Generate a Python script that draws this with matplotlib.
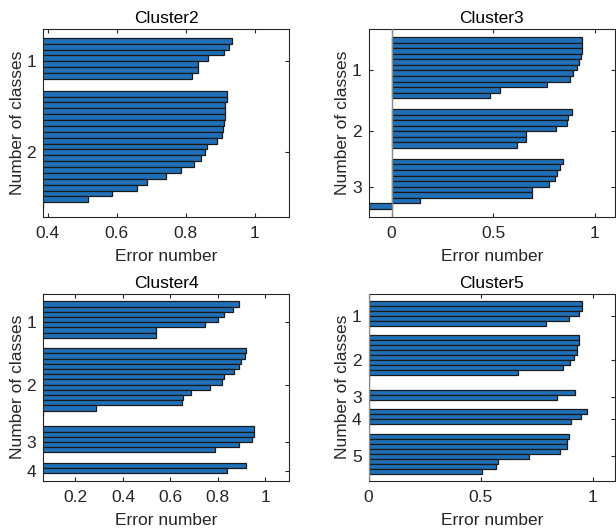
import numpy as np
import matplotlib
matplotlib.use("Agg")
import matplotlib.pyplot as plt

plt.rcParams['font.family'] = ['Liberation Sans', 'DejaVu Sans']

titles = ["Cluster2", "Cluster3", "Cluster4", "Cluster5"]

# silhouette values per class (sorted descending within each class)
c2_groups = [
    [0.936, 0.927, 0.910, 0.864, 0.836, 0.836, 0.818],
    [0.920, 0.920, 0.915, 0.915, 0.913, 0.910, 0.909, 0.905, 0.891, 0.861,
     0.856, 0.844, 0.823, 0.787, 0.743, 0.689, 0.659, 0.585, 0.518, 0.386],
]
c3_groups = [
    [0.939, 0.938, 0.938, 0.933, 0.924, 0.914, 0.891, 0.876, 0.767, 0.532, 0.485],
    [0.889, 0.870, 0.865, 0.808, 0.660, 0.660, 0.616],
    [0.846, 0.831, 0.816, 0.806, 0.777, 0.689, 0.689, 0.142, -0.114],
]
c4_groups = [
    [0.891, 0.866, 0.826, 0.802, 0.748, 0.540, 0.540],
    [0.920, 0.916, 0.899, 0.888, 0.870, 0.828, 0.818, 0.767, 0.685, 0.655,
     0.647, 0.286, 0.063],
    [0.952, 0.952, 0.945, 0.889, 0.788],
    [0.917, 0.837],
]
c5_groups = [
    [0.953, 0.953, 0.939, 0.895, 0.793],
    [0.941, 0.939, 0.932, 0.930, 0.917, 0.901, 0.868, 0.669, 0.003],
    [0.921, 0.841],
    [0.975, 0.948, 0.905],
    [0.896, 0.887, 0.886, 0.854, 0.718, 0.576, 0.571, 0.507],
]
all_groups = [c2_groups, c3_groups, c4_groups, c5_groups]

xticks_list = [[0.4, 0.6, 0.8, 1.0], [0, 0.5, 1], [0.2, 0.4, 0.6, 0.8, 1.0], [0, 0.5, 1]]
xticklabels_list = [["0.4", "0.6", "0.8", "1"], ["0", "0.5", "1"],
                    ["0.2", "0.4", "0.6", "0.8", "1"], ["0", "0.5", "1"]]

W, H = 616, 529
fig = plt.figure(figsize=(W / 100, H / 100), dpi=100)

# axes boxes in pixels: left, right, top, bottom
boxes = [(43, 289, 29, 217), (368.5, 615, 29, 217),
         (43, 289, 293.5, 481), (368.5, 615, 293.5, 481)]

barc = '#1f70b8'
txtc = '#262626'
fs = 12.5

for groups, title, box, xt, xtl in zip(all_groups, titles, boxes, xticks_list, xticklabels_list):
    l, r, t, b = box
    ax = fig.add_axes([l / W, 1 - b / H, (r - l) / W, (b - t) / H])
    space = 2
    bars = [np.nan] * space
    ticks = []
    for g in groups:
        bars += list(g) + [np.nan] * space
        ticks.append(len(bars) - 0.5 * (len(g) + space))
    bars = np.array(bars)
    idx = np.arange(1, len(bars) + 1)
    ok = ~np.isnan(bars)
    ax.barh(idx[ok], bars[ok], height=1.0, color=barc, edgecolor='#1a1a1a',
            linewidth=0.9, zorder=2)
    ax.axvline(0, color='#8a8a8a', linewidth=1.0, zorder=3)
    vals = np.concatenate([np.array(g) for g in groups])
    ax.set_xlim(vals.min(), 1.1)
    ax.set_ylim(len(bars), 1)
    ax.set_yticks(ticks)
    ax.set_yticklabels([str(i + 1) for i in range(len(groups))])
    ax.set_xticks(xt)
    ax.set_xticklabels(xtl)
    ax.tick_params(direction='in', length=3, width=0.8, top=True, right=True,
                   colors=txtc, labelsize=fs, pad=5)
    ax.tick_params(axis='x', pad=6.5)
    for s in ax.spines.values():
        s.set_color(txtc)
        s.set_linewidth(0.8)
    ax.set_title(title, fontsize=fs, color='black', pad=4)
    ax.set_xlabel("Error number", fontsize=fs, color=txtc, labelpad=6)
    ax.set_ylabel("Number of classes", fontsize=fs, color=txtc, labelpad=1)

fig.savefig("out.png", dpi=100)
